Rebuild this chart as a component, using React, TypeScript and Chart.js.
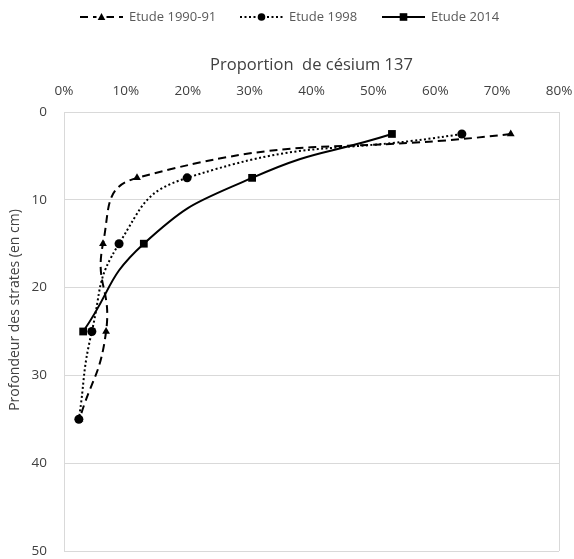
import { useEffect, useRef } from "react";
import { Chart, registerables } from "chart.js";
Chart.register(...registerables);

const seriesNames = ["Etude 1990-91", "Etude 1998", "Etude 2014"];
const depths1990 = [2.5, 7.5, 15, 25, 35];
const values1990 = [72.2, 11.8, 6.3, 6.8, 2.5];
const depths1998 = [2.5, 7.5, 15, 25, 35];
const values1998 = [64.3, 19.9, 8.9, 4.5, 2.4];
const depths2014 = [2.5, 7.5, 15, 25];
const values2014 = [53, 30.4, 12.9, 3.1];
const xTickValues = [0, 10, 20, 30, 40, 50, 60, 70, 80];
const yTickValues = [0, 10, 20, 30, 40, 50];
const xTitle = "Proportion  de césium 137";
const yTitle = "Profondeur des strates (en cm)";

const FONT = "'Open Sans', Lato, sans-serif";
const GRID = "#d9d9d9";
const TEXT = "#404040";

const styles = [
  { dash: [8, 5], point: "triangle", radius: 4.5 },
  { dash: [2, 2.5], point: "circle", radius: 4.5 },
  { dash: [], point: "rect", radius: 5.5 },
];
const legendLineStart = [80, 240, 382];

const customPlugin = {
  id: "customDecor",
  afterDraw(chart: any) {
    const ctx = chart.ctx;
    const area = chart.chartArea;
    ctx.save();
    ctx.fillStyle = TEXT;
    ctx.font = `16.5px ${FONT}`;
    ctx.textAlign = "center";
    ctx.textBaseline = "middle";
    ctx.fillText(xTitle, (area.left + area.right) / 2, 65);
    ctx.save();
    ctx.font = `14px ${FONT}`;
    ctx.translate(15, 310);
    ctx.rotate(-Math.PI / 2);
    ctx.fillText(yTitle, 0, 0);
    ctx.restore();
    ctx.font = `13px ${FONT}`;
    const lineLen = 43;
    const gapText = 6;
    const y = 17;
    seriesNames.forEach((name, i) => {
      const st = styles[i];
      const x = legendLineStart[i];
      ctx.save();
      ctx.strokeStyle = "#000";
      ctx.lineWidth = 2;
      ctx.setLineDash(st.dash);
      ctx.beginPath();
      ctx.moveTo(x, y);
      ctx.lineTo(x + lineLen, y);
      ctx.stroke();
      ctx.setLineDash([]);
      ctx.fillStyle = "#000";
      const cx = x + lineLen / 2;
      if (st.point === "circle") {
        ctx.beginPath();
        ctx.arc(cx, y, 3.8, 0, Math.PI * 2);
        ctx.fill();
      } else if (st.point === "rect") {
        ctx.fillRect(cx - 3.8, y - 3.8, 7.6, 7.6);
      } else {
        ctx.fillStyle = "#fff";
        ctx.fillRect(cx - 5, y - 5, 10, 10);
        ctx.fillStyle = "#000";
        ctx.beginPath();
        ctx.moveTo(cx, y - 4);
        ctx.lineTo(cx + 3.8, y + 3);
        ctx.lineTo(cx - 3.8, y + 3);
        ctx.closePath();
        ctx.fill();
      }
      ctx.restore();
      ctx.fillStyle = "#595959";
      ctx.textAlign = "left";
      ctx.textBaseline = "middle";
      ctx.fillText(name, x + lineLen + gapText, y);
    });
    ctx.restore();
  },
};

export default function App() {
  const ref = useRef<HTMLCanvasElement | null>(null);
  useEffect(() => {
    if (!ref.current) return;
    const mk = (vals: number[], deps: number[]) => vals.map((v, i) => ({ x: v, y: deps[i] }));
    const sets = [
      mk(values1990, depths1990),
      mk(values1998, depths1998),
      mk(values2014, depths2014),
    ];
    const chart = new Chart(ref.current, {
      type: "line",
      data: {
        datasets: sets.map((d, i) => ({
          label: seriesNames[i],
          data: d,
          borderColor: "#000",
          backgroundColor: "#000",
          borderWidth: 2,
          borderDash: styles[i].dash,
          pointStyle: styles[i].point as any,
          pointRadius: styles[i].radius,
          pointBorderWidth: 0,
          pointBackgroundColor: "#000",
          tension: 0.5,
          fill: false,
        })),
      },
      options: {
        responsive: false,
        animation: false,
        layout: { padding: { left: 0, top: 0, right: 15, bottom: 8 } },
        plugins: { legend: { display: false }, tooltip: { enabled: false } },
        scales: {
          x: {
            type: "linear",
            position: "top",
            min: 0,
            max: 80,
            afterBuildTicks: (s: any) => {
              s.ticks = xTickValues.map((v) => ({ value: v }));
            },
            afterFit: (s: any) => {
              s.height = 112;
              s.paddingLeft = 0;
              s.paddingRight = 0;
            },
            ticks: {
              padding: 13,
              color: TEXT,
              font: { family: FONT, size: 13.5 },
              callback: (v: any) => v + "%",
              maxRotation: 0,
            },
            grid: {
              drawTicks: false,
              color: (c: any) => (c.tick && c.tick.value === 80 ? GRID : "rgba(0,0,0,0)"),
              lineWidth: 1,
            },
            border: { display: false },
          },
          y: {
            type: "linear",
            reverse: true,
            min: 0,
            max: 50,
            afterBuildTicks: (s: any) => {
              s.ticks = yTickValues.map((v) => ({ value: v }));
            },
            afterFit: (s: any) => {
              s.width = 64;
              s.paddingTop = 0;
              s.paddingBottom = 0;
            },
            ticks: {
              padding: 17,
              color: TEXT,
              font: { family: FONT, size: 13.5 },
            },
            grid: { drawTicks: false, color: GRID, lineWidth: 1 },
            border: { display: true, color: GRID, width: 1 },
          },
        },
      },
      plugins: [customPlugin],
    });
    return () => chart.destroy();
  }, []);
  return (
    <div style={{ position: "absolute", left: 0, top: 0, width: 574, height: 559, background: "#fff" }}>
      <canvas ref={ref} width={574} height={559} style={{ display: "block", width: 574, height: 559 }} />
    </div>
  );
}
